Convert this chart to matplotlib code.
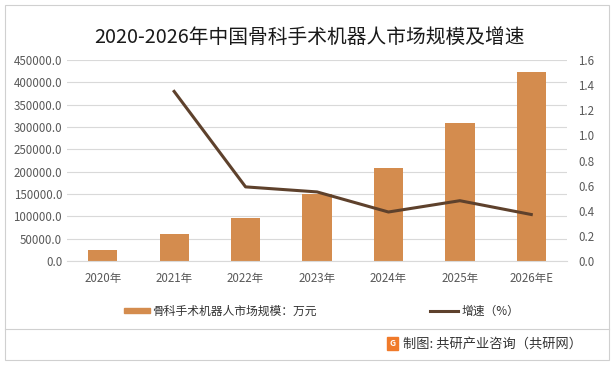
import matplotlib
matplotlib.use("Agg")
import matplotlib.pyplot as plt
from matplotlib.patches import Rectangle
from matplotlib.lines import Line2D
import numpy as np

plt.rcParams['font.family'] = ['Noto Sans CJK SC', 'DejaVu Sans']

years = ['2020年', '2021年', '2022年', '2023年', '2024年', '2025年', '2026年E']
market = [24000, 60000, 96000, 150000, 208000, 310000, 424000]
growth_years = years[1:]
growth = [1.35, 0.59, 0.55, 0.39, 0.48, 0.37]

bar_color = '#D48C4E'
line_color = '#5E412C'
tick_color = '#595959'

fig = plt.figure(figsize=(6.14, 3.65), dpi=100)
ax = fig.add_axes([67 / 614, (365 - 261) / 365, 500 / 614, 201 / 365])

x = np.arange(len(years))
ax.bar(x, market, width=0.41, color=bar_color, zorder=2)
ax.set_ylim(0, 450000)
ax.set_yticks(np.arange(0, 450001, 50000))
ax.set_yticklabels([f'{v:.1f}' for v in np.arange(0, 450001, 50000)])
ax.set_xlim(-0.5, len(years) - 0.5)
ax.set_xticks(x)
ax.set_xticklabels(years)
ax.grid(axis='y', color='#D9D9D9', linewidth=0.8, zorder=0)
for s in ax.spines.values():
    s.set_visible(False)
ax.spines['bottom'].set_visible(True)
ax.spines['bottom'].set_color('#D9D9D9')
ax.tick_params(axis='both', length=0, labelsize=8.3, colors=tick_color)
ax.tick_params(axis='x', pad=8)

ax2 = ax.twinx()
gx = [years.index(y) for y in growth_years]
ax2.plot(gx, growth, color=line_color, linewidth=2.2, zorder=3)
ax2.set_ylim(0, 1.6)
ax2.set_yticks(np.arange(0, 1.61, 0.2))
ax2.set_yticklabels([f'{v:.1f}' for v in np.arange(0, 1.61, 0.2)])
for s in ax2.spines.values():
    s.set_visible(False)
ax2.tick_params(axis='y', length=0, labelsize=8.3, colors=tick_color, pad=8)

fig.text(309 / 614, 1 - 37 / 365, '2020-2026年中国骨科手术机器人市场规模及增速',
         ha='center', va='center', fontsize=14.2, color='#1a1a1a')

# legend
fig.patches.append(Rectangle((124 / 614, 1 - 313 / 365), 26 / 614, 5 / 365,
                             transform=fig.transFigure, color=bar_color))
fig.text(152 / 614, 1 - 311 / 365, '骨科手术机器人市场规模：万元', va='center',
         fontsize=8.5, color='#333333')
fig.lines.append(Line2D([430 / 614, 458 / 614], [1 - 311 / 365] * 2,
                        transform=fig.transFigure, color=line_color, linewidth=2.2))
fig.text(462 / 614, 1 - 311 / 365, '增速（%）', va='center', fontsize=8.5, color='#333333')

# frame and footer
fig.patches.append(Rectangle((5 / 614, 5 / 365), 604 / 614, 355 / 365, transform=fig.transFigure,
                             fill=False, edgecolor='#D0D0D0', linewidth=0.8))
fig.lines.append(Line2D([5 / 614, 609 / 614], [1 - 329 / 365] * 2,
                        transform=fig.transFigure, color='#D0D0D0', linewidth=0.8))
fig.patches.append(Rectangle((387 / 614, 1 - 350 / 365), 11 / 614, 13 / 365,
                             transform=fig.transFigure, color='#F07A2A'))
fig.text(392.5 / 614, 1 - 343.5 / 365, 'G', ha='center', va='center', fontsize=6,
         color='white', fontweight='bold')
fig.text(403 / 614, 1 - 344 / 365, '制图: 共研产业咨询（共研网）', va='center',
         fontsize=9.5, color='#333333')

fig.savefig('out.png', dpi=100)
